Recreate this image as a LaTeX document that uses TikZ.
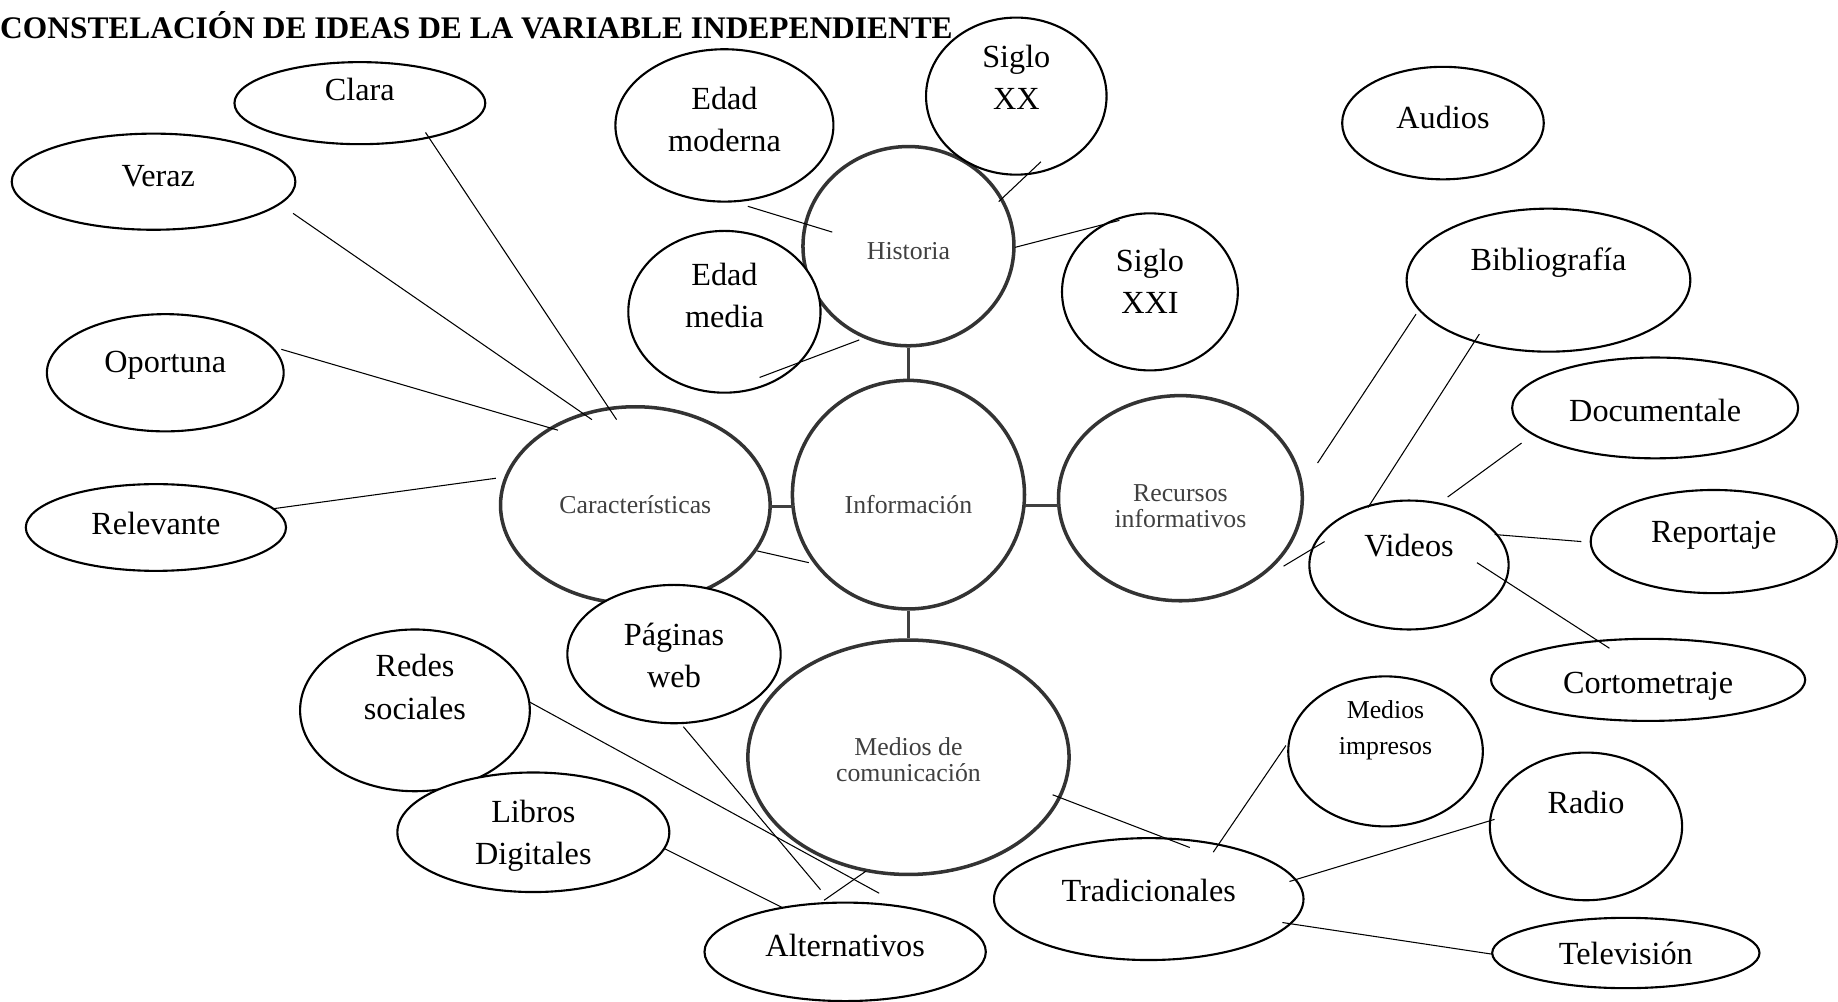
\documentclass[tikz,border=0pt]{standalone}
\usepackage{fontspec}
\setmainfont{Liberation Serif}
\usetikzlibrary{shapes.geometric}
\begin{document}
\begin{tikzpicture}[x=1pt,y=-1pt,
  bub/.style={ellipse, draw=black, line width=1.8pt, fill=white, inner sep=0pt},
  hub/.style={ellipse, draw=black!80, line width=3pt, fill=white, inner sep=0pt},
  lbl/.style={font=\fontsize{27.5}{36}\selectfont, align=center, inner sep=0pt},
  one/.style={lbl, text height=6.8pt, text depth=2pt},
  slbl/.style={font=\fontsize{22}{30}\selectfont, align=center, inner sep=0pt},
  hlbl/.style={font=\fontsize{22}{22}\selectfont, text=black!75, align=center, inner sep=0pt},
  con/.style={line width=0.9pt, draw=black}]
\useasboundingbox[fill=white] (0,0) rectangle (1568,854);

\node[anchor=base west, inner sep=0pt, font=\bfseries\fontsize{26.8}{30}\selectfont] (title) at (0,33) {CONSTELACIÓN DE IDEAS DE LA VARIABLE INDEPENDIENTE};

% hub ellipses
\node[hub, minimum width=180pt, minimum height=170pt] (hist) at (775,210) {};
\node[hub, minimum width=230pt, minimum height=168pt] (car) at (542,431) {};
\node[hub, minimum width=198pt, minimum height=195pt] (info) at (775,422) {};
\node[hub, minimum width=208pt, minimum height=175pt] (rec) at (1007,425) {};
\node[hub, minimum width=274pt, minimum height=200pt] (mdc) at (775,646) {};

% leaf ellipses
\node[bub, minimum width=214pt, minimum height=70pt] (clara) at (307,88) {};
\node[bub, minimum width=242pt, minimum height=82pt] (veraz) at (131,155) {};
\node[bub, minimum width=154pt, minimum height=134pt] (sxx) at (867,82) {};
\node[bub, minimum width=186pt, minimum height=130pt] (emod) at (618,107) {};
\node[bub, minimum width=172pt, minimum height=96pt] (audios) at (1231,105) {};
\node[bub, minimum width=150pt, minimum height=134pt] (sxxi) at (981,249) {};
\node[bub, minimum width=164pt, minimum height=138pt] (emed) at (618,266) {};
\node[bub, minimum width=242pt, minimum height=122pt] (biblio) at (1321,239) {};
\node[bub, minimum width=202pt, minimum height=100pt] (oport) at (141,318) {};
\node[bub, minimum width=222pt, minimum height=74pt] (relev) at (133,450) {};
\node[bub, minimum width=244pt, minimum height=86pt] (doc) at (1412,348) {};
\node[bub, minimum width=210pt, minimum height=88pt] (rep) at (1462,462) {};
\node[bub, minimum width=170pt, minimum height=110pt] (vid) at (1202,482) {};
\node[bub, minimum width=268pt, minimum height=70pt] (corto) at (1406,580) {};
\node[bub, minimum width=182pt, minimum height=118pt] (pag) at (575,558) {};
\node[bub, minimum width=196pt, minimum height=138pt] (redes) at (354,606) {};
\node[bub, minimum width=166pt, minimum height=128pt] (mimp) at (1182,641) {};
\node[bub, minimum width=164pt, minimum height=126pt] (radio) at (1353,705) {};
\node[bub, minimum width=232pt, minimum height=102pt] (libros) at (455,710) {};
\node[bub, minimum width=264pt, minimum height=104pt] (trad) at (980,767) {};
\node[bub, minimum width=240pt, minimum height=84pt] (alt) at (721,812) {};
\node[bub, minimum width=228pt, minimum height=60pt] (tv) at (1387,813) {};

% texts
\node[hlbl, text height=6.8pt, text depth=2pt] (hist-t) at (775,219) {Historia};
\node[hlbl, text height=6.8pt, text depth=2pt] (car-t) at (542,436) {Características};
\node[hlbl, text height=6.8pt, text depth=2pt] (info-t) at (775,436) {Información};
\node[hlbl] (rec-t) at (1007,432) {Recursos\\informativos};
\node[hlbl] (mdc-t) at (775,648) {Medios de\\comunicación};

\node[one] (clara-t) at (307,83) {Clara};
\node[one] (veraz-t) at (135,157) {Veraz};
\node[lbl] (sxx-t) at (867,66) {Siglo\\XX};
\node[lbl] (emod-t) at (618,102) {Edad\\moderna};
\node[one] (audios-t) at (1231,107) {Audios};
\node[lbl] (sxxi-t) at (981,240) {Siglo\\XXI};
\node[lbl] (emed-t) at (618,252) {Edad\\media};
\node[one] (biblio-t) at (1321,228) {Bibliografía};
\node[one] (oport-t) at (141,315) {Oportuna};
\node[one] (relev-t) at (133,454) {Relevante};
\node[one] (doc-t) at (1412,357) {Documentale};
\node[one] (rep-t) at (1462,460) {Reportaje};
\node[one] (vid-t) at (1202,472) {Videos};
\node[one] (corto-t) at (1406,589) {Cortometraje};
\node[lbl] (pag-t) at (575,559) {Páginas\\web};
\node[lbl] (redes-t) at (354,586) {Redes\\sociales};
\node[slbl] (mimp-t) at (1182,623) {Medios\\impresos};
\node[one] (radio-t) at (1353,692) {Radio};
\node[lbl] (libros-t) at (455,713) {Libros\\Digitales};
\node[one] (trad-t) at (980,767) {Tradicionales};
\node[one] (alt-t) at (721,814) {Alternativos};
\node[one] (tv-t) at (1387,820) {Televisión};

% hub connectors
\draw[line width=2.2pt, draw=black!75] (hist.south) -- (info.north);
\draw[line width=2.2pt, draw=black!75] (info.south) -- (mdc.north);
\draw[line width=2.2pt, draw=black!75] ([shift={(115,1)}]car.center) -- ([shift={(-98,10)}]info.center);
\draw[line width=2.2pt, draw=black!75] ([shift={(99,9)}]info.center) -- ([shift={(-104,6)}]rec.center);

% leaf connectors
\draw[con] ([shift={(56,25)}]clara.center) -- ([shift={(-16,-73)}]car.center);
\draw[con] ([shift={(119,27)}]veraz.center) -- ([shift={(-37,-73)}]car.center);
\draw[con] ([shift={(99,-20)}]oport.center) -- ([shift={(-66,-64)}]car.center);
\draw[con] ([shift={(100,-16)}]relev.center) -- ([shift={(-119,-23)}]car.center);
\draw[con] ([shift={(104,39)}]car.center) -- ([shift={(-85,58)}]info.center);
\draw[con] ([shift={(20,69)}]emod.center) -- ([shift={(-65,-12)}]hist.center);
\draw[con] ([shift={(21,56)}]sxx.center) -- ([shift={(77,-38)}]hist.center);
\draw[con] ([shift={(91,1)}]hist.center) -- ([shift={(-26,-61)}]sxxi.center);
\draw[con] ([shift={(30,56)}]emed.center) -- ([shift={(-42,80)}]hist.center);
\draw[con] ([shift={(-113,29)}]biblio.center) -- ([shift={(-197,156)}]biblio.center);
\draw[con] ([shift={(-59,46)}]biblio.center) -- ([shift={(-35,-49)}]vid.center);
\draw[con] ([shift={(-114,30)}]doc.center) -- ([shift={(33,-58)}]vid.center);
\draw[con] ([shift={(73,-26)}]vid.center) -- ([shift={(-113,0)}]rep.center);
\draw[con] ([shift={(58,-2)}]vid.center) -- ([shift={(-33,-27)}]corto.center);
\draw[con] ([shift={(88,58)}]rec.center) -- ([shift={(-72,-20)}]vid.center);
\draw[con] ([shift={(8,62)}]pag.center) -- ([shift={(-21,-53)}]alt.center);
\draw[con] ([shift={(98,-7)}]redes.center) -- ([shift={(29,-50)}]alt.center);
\draw[con] ([shift={(-36,97)}]mdc.center) -- ([shift={(-18,-44)}]alt.center);
\draw[con] ([shift={(112,14)}]libros.center) -- ([shift={(-54,-38)}]alt.center);
\draw[con] ([shift={(123,32)}]mdc.center) -- ([shift={(35,-44)}]trad.center);
\draw[con] ([shift={(-85,-5)}]mimp.center) -- ([shift={(55,-40)}]trad.center);
\draw[con] ([shift={(-78,-6)}]radio.center) -- ([shift={(120,-15)}]trad.center);
\draw[con] ([shift={(114,20)}]trad.center) -- ([shift={(-114,1)}]tv.center);
\end{tikzpicture}
\end{document}
